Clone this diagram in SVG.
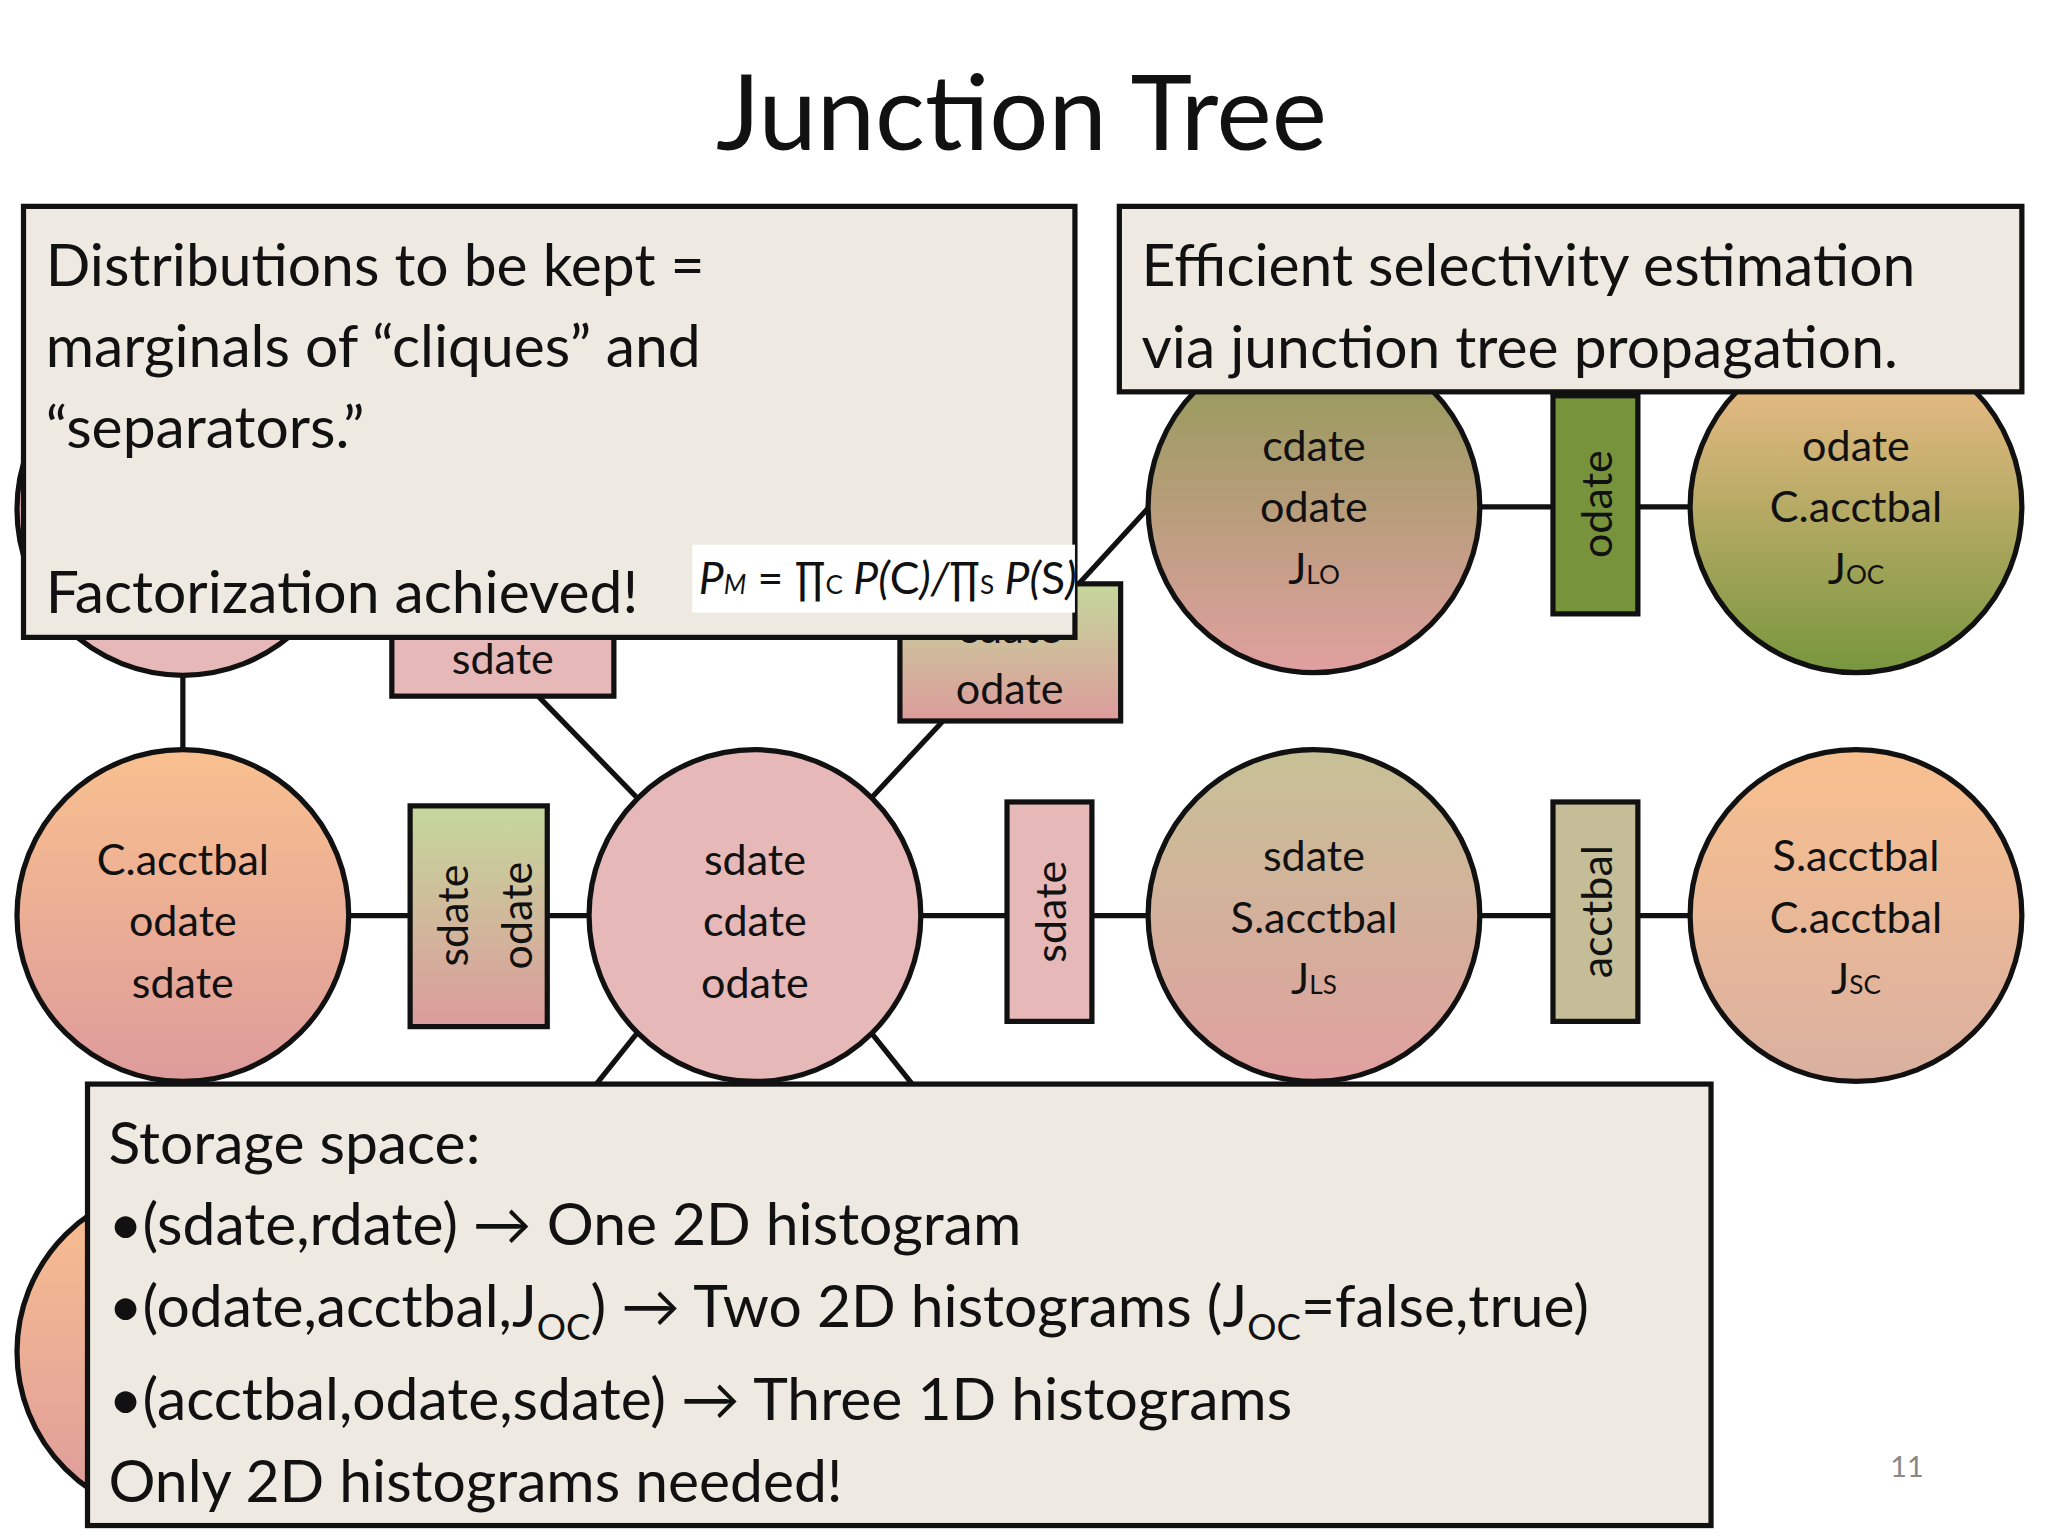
<svg xmlns="http://www.w3.org/2000/svg" width="2048" height="1536" viewBox="0 0 2048 1536">
<style>
text{font-family:Lato,"Open Sans","Liberation Sans",sans-serif;fill:#111}
.n{stroke:#111;stroke-width:4}
.l{stroke:#111;stroke-width:4;fill:none}
.t{font-size:33px;text-anchor:middle}
.b{fill:#eeeae2;stroke:#111;stroke-width:4}
.bt{font-size:45px}
</style>
<defs>
<linearGradient id="gOP" x1="0" y1="0" x2="0" y2="1"><stop offset="0" stop-color="#f9c08f"/><stop offset="1" stop-color="#dd9b9b"/></linearGradient>
<linearGradient id="gGP" x1="0" y1="0" x2="0" y2="1"><stop offset="0" stop-color="#8f9a55"/><stop offset="1" stop-color="#e0a0a0"/></linearGradient>
<linearGradient id="gOG" x1="0" y1="0" x2="0" y2="1"><stop offset="0" stop-color="#f7bf8e"/><stop offset="1" stop-color="#77963d"/></linearGradient>
<linearGradient id="gTP" x1="0" y1="0" x2="0" y2="1"><stop offset="0" stop-color="#c7c196"/><stop offset="1" stop-color="#e0a0a0"/></linearGradient>
<linearGradient id="gOT" x1="0" y1="0" x2="0" y2="1"><stop offset="0" stop-color="#f9c08f"/><stop offset="1" stop-color="#d9b0a0"/></linearGradient>
<linearGradient id="gLP" x1="0" y1="0" x2="0" y2="1"><stop offset="0" stop-color="#c4d89b"/><stop offset="1" stop-color="#dc9b9b"/></linearGradient>
</defs>
<rect width="2048" height="1536" fill="#fff"/>
<g transform="scale(1.30612)">
<text x="782" y="115" font-size="80" text-anchor="middle" font-family="Lato,'Open Sans',sans-serif">Junction Tree</text>
<g id="connectors">
<line class="l" x1="1133" y1="388" x2="1294" y2="388"/>
<line class="l" x1="267" y1="701" x2="1294" y2="701"/>
<line class="l" x1="412" y1="533" x2="487" y2="610"/>
<line class="l" x1="722" y1="552" x2="668" y2="610"/>
<line class="l" x1="826" y1="447" x2="880" y2="388"/>
<line class="l" x1="487" y1="792" x2="455" y2="832"/>
<line class="l" x1="668" y1="792" x2="700" y2="832"/>
<line class="l" x1="140" y1="480" x2="140" y2="580"/>
</g>
<g id="n-tl"><circle class="n" cx="140" cy="390" r="127" fill="#e6b8b7"/></g>
<g id="n-bl"><circle class="n" cx="140" cy="1035" r="127" fill="url(#gOP)"/></g>
<g id="n-lo"><circle class="n" cx="1006" cy="388" r="127" fill="url(#gGP)"/>
<text class="t" x="1006" y="353">cdate</text><text class="t" x="1006" y="400">odate</text><text class="t" x="1006" y="447">J<tspan font-size="20">LO</tspan></text></g>
<g id="n-oc"><circle class="n" cx="1421" cy="388" r="127" fill="url(#gOG)"/>
<text class="t" x="1421" y="353">odate</text><text class="t" x="1421" y="400">C.acctbal</text><text class="t" x="1421" y="447">J<tspan font-size="20">OC</tspan></text></g>
<g id="n-cos"><circle class="n" cx="140" cy="701" r="127" fill="url(#gOP)"/>
<text class="t" x="140" y="670">C.acctbal</text><text class="t" x="140" y="717">odate</text><text class="t" x="140" y="764">sdate</text></g>
<g id="n-center"><circle class="n" cx="578" cy="701" r="127" fill="#e6b8b7"/>
<text class="t" x="578" y="670">sdate</text><text class="t" x="578" y="717">cdate</text><text class="t" x="578" y="764">odate</text></g>
<g id="n-ls"><circle class="n" cx="1006" cy="701" r="127" fill="url(#gTP)"/>
<text class="t" x="1006" y="667">sdate</text><text class="t" x="1006" y="714">S.acctbal</text><text class="t" x="1006" y="761">J<tspan font-size="20">LS</tspan></text></g>
<g id="n-sc"><circle class="n" cx="1421" cy="701" r="127" fill="url(#gOT)"/>
<text class="t" x="1421" y="667">S.acctbal</text><text class="t" x="1421" y="714">C.acctbal</text><text class="t" x="1421" y="761">J<tspan font-size="20">SC</tspan></text></g>
<g id="s-sdate1"><rect class="n" x="300" y="475" width="170" height="58" fill="#e6b8b7"/><text class="t" x="385" y="516">sdate</text></g>
<g id="s-co"><rect class="n" x="689" y="447" width="169" height="105" fill="url(#gLP)"/><text class="t" x="773" y="492">cdate</text><text class="t" x="773" y="539">odate</text></g>
<g id="s-odate"><rect class="n" x="1189" y="303" width="65" height="167" fill="#77933c"/><text class="t" transform="translate(1234,386) rotate(-90)">odate</text></g>
<g id="s-so"><rect class="n" x="314" y="617" width="105" height="169" fill="url(#gLP)"/><text class="t" transform="translate(358,701) rotate(-90)">sdate</text><text class="t" transform="translate(407,701) rotate(-90)">odate</text></g>
<g id="s-sdate2"><rect class="n" x="771" y="614" width="65" height="168" fill="#e6b8b7"/><text class="t" transform="translate(816,698) rotate(-90)">sdate</text></g>
<g id="s-acctbal"><rect class="n" x="1189" y="614" width="65" height="168" fill="#c4bd97"/><text class="t" transform="translate(1234,698) rotate(-90)">acctbal</text></g>
<g id="box1"><rect class="b" x="18" y="158" width="805" height="330"/>
<text class="bt" x="35" y="219">Distributions to be kept =</text>
<text class="bt" x="35" y="281">marginals of “cliques” and</text>
<text class="bt" x="35" y="343">“separators.”</text>
<text class="bt" x="35" y="469">Factorization achieved!</text>
<rect x="530" y="417" width="293" height="52" fill="#fff"/>
<text x="535" y="455" font-size="34" font-family="'Liberation Serif',serif" font-style="italic">P<tspan font-size="20">M</tspan><tspan font-style="normal"> = ∏</tspan><tspan font-size="20" font-style="normal">C</tspan> P(<tspan font-style="normal">C</tspan>)/<tspan font-style="normal">∏</tspan><tspan font-size="20" font-style="normal">S</tspan> P(<tspan font-style="normal">S</tspan>)</text></g>
<g id="box2"><rect class="b" x="857" y="158" width="691" height="142"/>
<text class="bt" x="874" y="219">Efficient selectivity estimation</text>
<text class="bt" x="874" y="282">via junction tree propagation.</text></g>
<g id="box3"><rect class="b" x="67" y="830" width="1243" height="338"/>
<text class="bt" x="83" y="891">Storage space:</text>
<text class="bt" x="83" y="953">•(sdate,rdate) → One 2D histogram</text>
<text class="bt" x="83" y="1016">•(odate,acctbal,J<tspan font-size="28" dy="10">OC</tspan><tspan dy="-10">) → Two 2D histograms (J</tspan><tspan font-size="28" dy="10">OC</tspan><tspan dy="-10">=false,true)</tspan></text>
<text class="bt" x="83" y="1087">•(acctbal,odate,sdate) → Three 1D histograms</text>
<text class="bt" x="83" y="1150">Only 2D histograms needed!</text></g>
<text x="1460" y="1131" font-size="22" fill="#888" text-anchor="middle" style="fill:#888">11</text>
</g>
</svg>
